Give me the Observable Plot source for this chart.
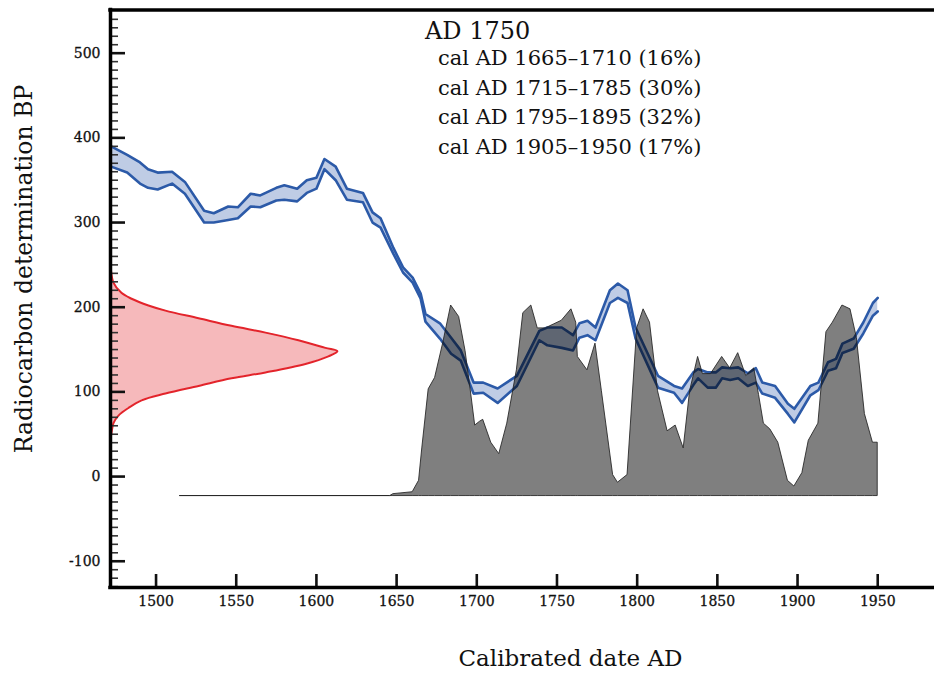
<!DOCTYPE html>
<html>
<head>
<meta charset="utf-8">
<script src="https://cdn.jsdelivr.net/npm/d3@7"></script>
<script src="https://cdn.jsdelivr.net/npm/@observablehq/plot@0.6"></script>
<style>
  html, body { margin: 0; padding: 0; background: #fff; }
  #chart { width: 934px; height: 673px; }
</style>
</head>
<body>
<div id="chart"></div>
<script>
// ---- Calibration curve (IntCal band): upper / lower edges, BP ----
const curveYears = [1472,1482,1490,1495,1501,1510,1518,1530,1536,1545,1551,1559,1565,1575,1580,1588,1594,1600,1605,1612,1619,1629,1635,1640,1648,1654,1660,1665,1668,1677,1684,1690,1698,1704,1713,1725,1739,1744,1753,1760,1764,1769,1774,1783,1788,1794,1799,1813,1823,1828,1835,1838,1844,1849,1853,1858,1863,1869,1874,1878,1886,1894,1898,1908,1913,1919,1924,1928,1935,1941,1947,1950];
const curveHigh  = [390,380,371,363,359,360,348,314,311,319,318,334,332,341,344,340,350,353,375,366,340,335,312,305,270,247,235,216,192,181,164,149,111,111,104,119,172,176,176,167,181,184,176,220,228,220,176,119,107,104,123,127,123,123,129,128,129,122,128,111,107,86,80,107,111,135,139,157,163,182,205,211];
const curveLow   = [366,359,346,341,339,346,334,300,300,303,305,319,318,326,327,325,335,340,363,350,327,324,300,294,263,241,229,210,183,163,145,137,98,99,87,107,161,155,152,149,164,167,161,205,211,205,163,105,99,87,108,116,105,105,116,114,116,107,111,98,93,74,64,96,102,125,128,146,151,169,190,195];

// ---- Calibrated date distribution (relative probability) ----
const distYears = [1515,1646,1648,1660,1664,1666,1670,1674,1679,1684,1689,1693,1696,1699,1702,1704,1709,1714,1719,1725,1729,1734,1738,1743,1748,1753,1759,1762,1763,1769,1774,1778,1785,1788,1794,1800,1804,1808,1813,1819,1824,1829,1833,1838,1841,1846,1853,1858,1863,1868,1873,1876,1879,1883,1888,1894,1898,1903,1907,1913,1918,1922,1928,1933,1937,1942,1947,1950];
const distProb  = [0,0,0.01,0.02,0.08,0.25,0.56,0.62,0.80,1.00,0.94,0.76,0.57,0.37,0.39,0.40,0.28,0.22,0.38,0.66,0.96,1.00,0.88,0.88,0.90,0.92,0.98,0.91,0.73,0.66,0.80,0.55,0.11,0.07,0.11,0.88,0.98,0.91,0.55,0.34,0.37,0.25,0.55,0.73,0.64,0.64,0.73,0.67,0.75,0.63,0.67,0.53,0.38,0.35,0.28,0.08,0.05,0.12,0.29,0.38,0.86,0.91,1.00,0.98,0.83,0.43,0.28,0.28];

// ---- Radiocarbon measurement likelihood (relative) ----
const likeBP   = [251,229,217,210,202,196,187,178,170,161,152,148,142,133,123,116,107,98,90,81,72,63,51,44];
const likeProb = [0,0.013,0.048,0.093,0.167,0.242,0.388,0.533,0.683,0.828,0.947,1.0,0.960,0.859,0.683,0.533,0.388,0.242,0.137,0.079,0.035,0.013,0.004,0];

// ---- Axis ticks and texts ----
const xTickValues = [1500,1550,1600,1650,1700,1750,1800,1850,1900,1950];
const yMajorTicks = [-100,0,100,200,300,400,500];
const yMinorTicks = [-130,-120,-110,-90,-80,-70,-60,-50,-40,-30,-20,-10,10,20,30,40,50,60,70,80,90,110,120,130,140,150,160,170,180,190,210,220,230,240,250,260,270,280,290,310,320,330,340,350,360,370,380,390,410,420,430,440,450,460,470,480,490,510,520,530,540];
const titleText = "AD 1750";
const rangeLines = ["cal AD 1665–1710 (16%)","cal AD 1715–1785 (30%)","cal AD 1795–1895 (32%)","cal AD 1905–1950 (17%)"];
const xLabel = "Calibrated date AD";
const yLabel = "Radiocarbon determination BP";

// ---- build tables ----
const curve = curveYears.map((year, i) => ({year, hi: curveHigh[i], lo: curveLow[i]}));
const dist = distYears.map((year, i) => ({year, p: distProb[i]}));
const like = likeBP.map((bp, i) => ({bp, p: likeProb[i]}));

const W = 934, H = 673;
const mL = 110, mR = 0, mT = 9.5, mB = 86;
const X0 = 1471.6, X1 = 1985.4;
const Y0 = -131, Y1 = 551;
const DIST_BASE = -23, DIST_H = 225;   // placement of the calibrated distribution
const LIKE_SPAN = 141.5;               // horizontal extent of the likelihood curve (years)
const plotW = W - mL - mR, plotH = H - mT - mB;
const FONT = "DejaVu Serif";

const chart = Plot.plot({
  width: W, height: H,
  marginLeft: mL, marginRight: mR, marginTop: mT, marginBottom: mB,
  x: {domain: [X0, X1], axis: null},
  y: {domain: [Y0, Y1], axis: null},
  style: {fontFamily: FONT, background: "#fff", overflow: "visible"},
  marks: [
    // likelihood (red)
    Plot.areaX(like, {y: "bp", x1: () => X0, x2: d => X0 + d.p * LIKE_SPAN, fill: "#f6b9bb", curve: "catmull-rom"}),
    Plot.line(like, {y: "bp", x: d => X0 + d.p * LIKE_SPAN, stroke: "#e3242b", strokeWidth: 2, curve: "catmull-rom"}),
    // calibration curve band
    Plot.areaY(curve, {x: "year", y1: "lo", y2: "hi", fill: "#bfcce5"}),
    Plot.line(curve, {x: "year", y: "hi", stroke: "#2c5aa8", strokeWidth: 2.6}),
    Plot.line(curve, {x: "year", y: "lo", stroke: "#2c5aa8", strokeWidth: 2.6}),
    // calibrated distribution (gray, translucent)
    Plot.areaY(dist, {x: "year", y1: () => DIST_BASE, y2: d => DIST_BASE + d.p * DIST_H,
      fill: "black", fillOpacity: 0.5, stroke: "#222", strokeWidth: 1, strokeOpacity: 0.85}),
    // ticks (inward)
    Plot.tickY(yMinorTicks, {y: d => d, stroke: "#333", strokeWidth: 1.6, insetRight: plotW - 8}),
    Plot.tickY(yMajorTicks, {y: d => d, stroke: "#111", strokeWidth: 2.6, insetRight: plotW - 15}),
    Plot.tickX(xTickValues, {x: d => d, stroke: "#111", strokeWidth: 2.6, insetTop: plotH - 13}),
    // tick labels
    Plot.text(yMajorTicks, {y: d => d, text: d => String(d), frameAnchor: "left", dx: -10, textAnchor: "end", fontSize: 14, fill: "#111", stroke: "#111", strokeWidth: 0.3}),
    Plot.text(xTickValues, {x: d => d, text: d => String(d), frameAnchor: "bottom", dy: 18, fontSize: 14, fill: "#111", stroke: "#111", strokeWidth: 0.3}),
    // axis lines / frame
    Plot.ruleX([X0], {stroke: "#000", strokeWidth: 3.5, strokeLinecap: "square"}),
    Plot.ruleY([Y0], {stroke: "#000", strokeWidth: 3.5, strokeLinecap: "square"}),
    Plot.ruleY([Y1], {stroke: "#000", strokeWidth: 3.5, strokeLinecap: "square"})
  ]
});

document.getElementById("chart").appendChild(chart);

const svg = d3.select(chart.tagName.toLowerCase() === "svg" ? chart : chart.querySelector("svg"));
const txt = svg.append("g").attr("font-family", FONT).attr("fill", "#111").attr("text-anchor", "start");
txt.append("text").attr("x", 425).attr("y", 39).attr("font-size", 24).attr("text-anchor", "start").text(titleText);
rangeLines.forEach((s, i) => {
  txt.append("text").attr("x", 438).attr("y", 65 + i * 29.5).attr("font-size", 21).attr("text-anchor", "start").text(s);
});
txt.append("text").attr("x", 570.5).attr("y", 666).attr("text-anchor", "middle").attr("font-size", 23).text(xLabel);
txt.append("text").attr("transform", "translate(32,269) rotate(-90)").attr("text-anchor", "middle").attr("font-size", 23.5).text(yLabel);
</script>
</body>
</html>
